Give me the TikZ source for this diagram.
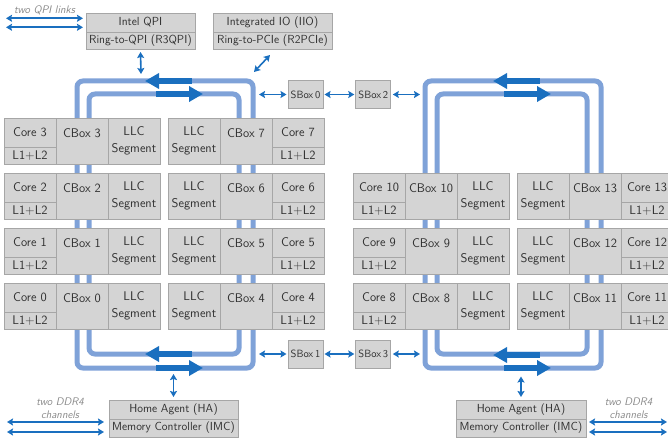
\documentclass[tikz,border=0pt]{standalone}
\usetikzlibrary{arrows.meta,calc}
\definecolor{ringc}{HTML}{7FA2D8}
\definecolor{darkc}{HTML}{1A6FBF}
\definecolor{boxf}{HTML}{D4D4D4}
\definecolor{boxd}{HTML}{A6A6A6}
\definecolor{txtc}{HTML}{303030}
\definecolor{lblc}{HTML}{8A8A8A}
\tikzset{
  cellbox/.style={draw=boxd, fill=boxf, line width=0.9pt, minimum width=52pt, inner sep=0pt, outer sep=0pt, anchor=north west},
  tiletxt/.style={text=txtc, font=\sffamily\fontsize{12.6}{17}\selectfont, inner sep=0pt, align=center},
  infobox/.style={draw=boxd, fill=boxf, line width=0.9pt, inner sep=0pt, outer sep=0pt, anchor=north west, text=txtc, font=\sffamily\fontsize{11.7}{14}\selectfont},
  sbox/.style={draw=boxd, fill=boxf, line width=0.9pt, inner sep=0pt, outer sep=0pt, minimum width=35pt, minimum height=28pt, text=txtc, font=\sffamily\fontsize{10.5}{12}\selectfont},
  ring/.style={draw=ringc, line width=5pt, rounded corners=6pt},
  ringarr/.style={draw=darkc, line width=6pt, -{Triangle[length=14pt,width=15pt]}},
  dbl/.style={draw=darkc, line width=1.6pt, {Stealth[length=6pt,width=7pt,inset=1pt]}-{Stealth[length=6pt,width=7pt,inset=1pt]}},
  lbl/.style={text=lblc, font=\sffamily\itshape\fontsize{11}{13.5}\selectfont, inner sep=0pt, align=center}
}
\newcommand\tileA[3]{%
  \node[cellbox,minimum height=29pt] (core#3) at (#1,#2) {};
  \node[tiletxt] at (core#3.center) {Core #3};
  \node[cellbox,minimum height=17pt] (l#3) at (#1,#2+29) {};
  \node[tiletxt] at (l#3.center) {L1+L2};
  \node[cellbox,minimum height=46pt] (cbox#3) at (#1+52,#2) {};
  \node[tiletxt] at ($(cbox#3.north)+(0,15)$) {CBox #3};
  \node[cellbox,minimum height=46pt] (llc#3) at (#1+104,#2) {};
  \node[tiletxt] at (llc#3.center) {LLC\\Segment};
}
\newcommand\tileB[3]{%
  \node[cellbox,minimum height=46pt] (llc#3) at (#1,#2) {};
  \node[tiletxt] at (llc#3.center) {LLC\\Segment};
  \node[cellbox,minimum height=46pt] (cbox#3) at (#1+52,#2) {};
  \node[tiletxt] at ($(cbox#3.north)+(0,15)$) {CBox #3};
  \node[cellbox,minimum height=29pt] (core#3) at (#1+104,#2) {};
  \node[tiletxt] at (core#3.center) {Core #3};
  \node[cellbox,minimum height=17pt] (l#3) at (#1+104,#2+29) {};
  \node[tiletxt] at (l#3.center) {L1+L2};
}
\begin{document}
\begin{tikzpicture}[x=1pt,y=-1pt]
\useasboundingbox (0,0) rectangle (668,441);

% rings
\draw[ring] (77,81) rectangle (253,368);
\draw[ring] (89,94) rectangle (239,354);
\draw[ring] (425,81) rectangle (601,368);
\draw[ring] (437,94) rectangle (587,354);

% ring direction arrows
\draw[ringarr] (192,81) -- (145,81);
\draw[ringarr] (156,94) -- (203,94);
\draw[ringarr] (192,354) -- (145,354);
\draw[ringarr] (156,368) -- (203,368);
\draw[ringarr] (540,81) -- (493,81);
\draw[ringarr] (504,94) -- (551,94);
\draw[ringarr] (540,355) -- (493,355);
\draw[ringarr] (504,368) -- (551,368);

% tiles
\tileA{4}{118}{3}
\tileA{4}{173}{2}
\tileA{4}{228}{1}
\tileA{4}{283}{0}
\tileB{168}{118}{7}
\tileB{168}{173}{6}
\tileB{168}{228}{5}
\tileB{168}{283}{4}
\tileA{353}{173}{10}
\tileA{353}{228}{9}
\tileA{353}{283}{8}
\tileB{517}{173}{13}
\tileB{517}{228}{12}
\tileB{517}{283}{11}

% top boxes
\node[infobox,minimum width=109pt,minimum height=19pt] (qpi) at (86,13) {Intel QPI};
\node[infobox,minimum width=109pt,minimum height=17pt] (r3qpi) at (86,32) {Ring-to-QPI (R3QPI)};
\node[infobox,minimum width=119pt,minimum height=19pt] (iio) at (213,13) {Integrated IO (IIO)};
\node[infobox,minimum width=119pt,minimum height=17pt] (r2pcie) at (213,32) {Ring-to-PCIe (R2PCIe)};

% home agents
\node[infobox,minimum width=129pt,minimum height=19pt] (haL) at (109,400) {Home Agent (HA)};
\node[infobox,minimum width=129pt,minimum height=18pt] (imcL) at (109,419) {Memory Controller (IMC)};
\node[infobox,minimum width=130pt,minimum height=19pt] (haR) at (456,400) {Home Agent (HA)};
\node[infobox,minimum width=130pt,minimum height=18pt] (imcR) at (456,419) {Memory Controller (IMC)};

% sboxes
\node[sbox] (sb0) at (305.5,94.5) {SBox\,0};
\node[sbox] (sb2) at (373.3,94.5) {SBox\,2};
\node[sbox] (sb1) at (305.5,354) {SBox\,1};
\node[sbox] (sb3) at (373.3,354) {SBox\,3};

% ring attachment points
\coordinate (qpiring) at (141,74);
\coordinate (iioring) at (254,72);
\coordinate (lr0) at (259,94.5);
\coordinate (rr0) at (420,94.5);
\coordinate (lr1) at (259,354);
\coordinate (rr1) at (420,354);
\coordinate (haLring) at (173.5,374);
\coordinate (haRring) at (521,376.5);

\draw[dbl] ($(r3qpi.south)+(0,3)$) -- (qpiring);
\draw[dbl] (270,55) -- (iioring);
\draw[dbl, shorten >=1.5pt] (lr0) -- (sb0.west);
\draw[dbl, shorten <=1.5pt, shorten >=1.5pt] (sb0.east) -- (sb2.west);
\draw[dbl, shorten <=2pt] (sb2.east) -- (rr0);
\draw[dbl, shorten >=1.5pt] (lr1) -- (sb1.west);
\draw[dbl, shorten <=1.5pt, shorten >=1.5pt] (sb1.east) -- (sb3.west);
\draw[dbl, shorten <=2pt] (sb3.east) -- (rr1);
\draw[dbl] (haLring) -- ($(haL.north)+(0,-3)$);
\draw[dbl] (haRring) -- ($(haR.north)+(0,-3)$);

% QPI links
\node[lbl] (qpilbl) at (44.5,10) {two QPI links};
\coordinate (q1) at (6,18.3);
\coordinate (q2) at (6,27.3);
\draw[dbl, shorten >=3pt] (q1) -- (q1 -| qpi.west);
\draw[dbl, shorten >=3pt] (q2) -- (q2 -| qpi.west);

% DDR4 channels
\node[lbl] (ddrL) at (60,408) {two DDR4\\channels};
\node[lbl] (ddrR) at (628.5,408) {two DDR4\\channels};
\coordinate (dl1) at (7,422);
\coordinate (dl2) at (7,432);
\draw[dbl, shorten >=5pt] (dl1) -- (dl1 -| imcL.west);
\draw[dbl, shorten >=5pt] (dl2) -- (dl2 -| imcL.west);
\coordinate (dr1) at (667,422);
\coordinate (dr2) at (667,432);
\draw[dbl, shorten >=3pt] (dr1) -- (dr1 -| imcR.east);
\draw[dbl, shorten >=3pt] (dr2) -- (dr2 -| imcR.east);
\end{tikzpicture}
\end{document}
